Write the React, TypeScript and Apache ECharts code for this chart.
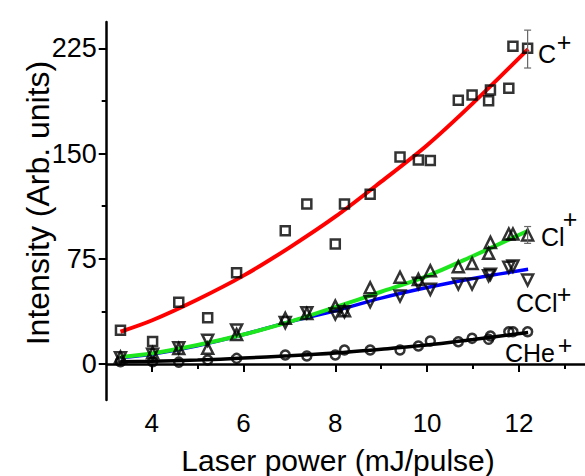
import React, { useEffect, useRef } from "react";
import * as echarts from "echarts";

// Laser power values (mJ/pulse) shared by all species
const power = [3.32, 4.02, 4.59, 5.22, 5.85, 6.91, 7.38, 8.0, 8.2, 8.76, 9.41, 9.81, 10.07, 10.68, 10.98, 11.34, 11.38, 11.78, 11.87, 12.19];
const cPlus = [24, 16, 44, 33, 65, 95, 114, 85.5, 114, 121, 147.5, 145.5, 145, 188, 191.7, 187.7, 195.3, 196.5, 226.5, 225];
const clPlus = [5, 8, 11, 11.2, 21, 32.6, 36, 41.3, 38, 54.4, 61.8, 60.3, 66.5, 69.4, 71.7, 78.9, 86.7, 92.7, 92.7, 92];
const cclPlus = [4.5, 7, 11.5, 17, 24.2, 29.5, 36.6, 35.6, 37.3, 44.4, 48.5, 57.5, 53.2, 57, 57, 63, 64, 68.9, 69.8, 59.9];
const chePlus = [1.6, 1.6, 1.3, 2.9, 4, 6.4, 5.7, 6.4, 10, 10, 10, 12.8, 16.4, 15.9, 18.3, 17.6, 20, 23, 23, 23];

// Fitted curves
const fitX = [3.32, 4, 5, 6, 7, 8, 9, 10, 11, 12.2];
const fitC = [23, 31, 46, 63, 83, 105, 130, 156, 186, 224.5];
const fitCl = [5, 7.5, 13.5, 21, 30, 40.5, 51.5, 62.7, 77, 95];
const fitCCl = [4.5, 7, 13, 21, 30, 38, 47, 54.5, 61, 67.5];
const fitCHe = [1.6, 2, 2.8, 4.2, 5.8, 7.8, 10.5, 13.5, 17.5, 22.5];

// Error bars
const errX = [12.19, 12.19];
const errLow = [211, 86];
const errHigh = [238, 98];

// Ticks
const xMajor = [4, 6, 8, 10, 12];
const xMinor = [5, 7, 9, 11, 13];
const yMajor = [0, 75, 150, 225];
const yMinor = [37.5, 112.5, 187.5];

const FONT = "Arial, 'Liberation Sans', sans-serif";

const zip = (xs: number[], ys: number[]) => xs.map((x, i) => [x, ys[i]]);

export default function App() {
  const ref = useRef<HTMLDivElement>(null);
  useEffect(() => {
    if (!ref.current) return;
    const chart = echarts.init(ref.current, null, { renderer: "svg" });
    const xMin = 3.02, xMax = 13.44, yMin = -25.66, yMax = 243.8;
    const axisCommon = {
      type: "value",
      splitLine: { show: false },
    };
    const markerStyle = { color: "rgba(0,0,0,0)", borderColor: "#000", borderWidth: 2.5 };
    const lineSeries = (name: string, ys: number[], color: string, width: number) => ({
      name,
      type: "line",
      data: zip(fitX, ys),
      smooth: 0.3,
      showSymbol: false,
      symbol: "none",
      lineStyle: { color, width },
      z: 2,
    });
    const scatter = (name: string, ys: number[], symbol: string, size: number, rotate = 0) => ({
      name,
      type: "scatter",
      data: zip(power, ys),
      symbol,
      symbolSize: size,
      symbolRotate: rotate,
      itemStyle: markerStyle,
      z: 3,
    });
    const superLabel = (base: string, bx: number, by: number, px: number, py: number) => [
      {
        type: "text",
        x: bx,
        y: by,
        style: { text: base, font: `25px ${FONT}`, fill: "#000", textAlign: "left", textVerticalAlign: "bottom" },
      },
      {
        type: "text",
        x: px,
        y: py,
        style: { text: "+", font: `25px ${FONT}`, fill: "#000", textAlign: "center", textVerticalAlign: "middle" },
      },
    ];
    chart.setOption({
      animation: false,
      backgroundColor: "#fff",
      grid: { left: 106.7, right: 0, top: 22, bottom: 76, containLabel: false, outerBoundsMode: "none" },
      xAxis: [
        {
          ...axisCommon,
          min: xMin,
          max: xMax,
          position: "bottom",
          axisLine: { show: true, lineStyle: { color: "#000", width: 2.5 } },
          axisTick: { show: true, customValues: xMajor, length: 8, lineStyle: { color: "#000", width: 2 } },
          axisLabel: { customValues: xMajor, fontSize: 26, fontFamily: FONT, color: "#000", margin: 10 },
        },
        {
          ...axisCommon,
          min: xMin,
          max: xMax,
          position: "bottom",
          axisLine: { show: false },
          axisTick: { show: true, customValues: xMinor, length: 5, lineStyle: { color: "#000", width: 2 } },
          axisLabel: { show: false },
        },
      ],
      yAxis: [
        {
          ...axisCommon,
          min: yMin,
          max: yMax,
          position: "left",
          axisLine: { show: true, lineStyle: { color: "#000", width: 2.5 } },
          axisTick: { show: true, customValues: yMajor, length: 8, lineStyle: { color: "#000", width: 2 } },
          axisLabel: { customValues: yMajor, fontSize: 27, fontFamily: FONT, color: "#000", margin: 10 },
        },
        {
          ...axisCommon,
          min: yMin,
          max: yMax,
          position: "left",
          axisLine: { show: false },
          axisTick: { show: true, customValues: yMinor, length: 5, lineStyle: { color: "#000", width: 2 } },
          axisLabel: { show: false },
        },
      ],
      series: [
        lineSeries("C+ fit", fitC, "#ff0000", 4),
        lineSeries("CCl+ fit", fitCCl, "#0000ff", 3.5),
        lineSeries("Cl+ fit", fitCl, "#1ee61e", 4),
        lineSeries("CHe+ fit", fitCHe, "#000000", 3.5),
        scatter("C+", cPlus, "rect", 9),
        scatter("Cl+", clPlus, "triangle", 11),
        scatter("CCl+", cclPlus, "triangle", 11, 180),
        scatter("CHe+", chePlus, "circle", 9),
        {
          name: "error",
          type: "custom",
          data: errX.map((x, i) => [x, errLow[i], errHigh[i]]),
          encode: { x: 0, y: [1, 2] },
          z: 4,
          renderItem: (params: any, api: any) => {
            const x = api.value(0);
            const lo = api.coord([x, api.value(1)]);
            const hi = api.coord([x, api.value(2)]);
            const style = { stroke: "#666", lineWidth: 1.2 };
            const cap = 3.5;
            return {
              type: "group",
              children: [
                { type: "line", shape: { x1: lo[0], y1: lo[1], x2: hi[0], y2: hi[1] }, style },
                { type: "line", shape: { x1: lo[0] - cap, y1: lo[1], x2: lo[0] + cap, y2: lo[1] }, style },
                { type: "line", shape: { x1: hi[0] - cap, y1: hi[1], x2: hi[0] + cap, y2: hi[1] }, style },
              ],
            };
          },
        },
      ],
      graphic: [
        ...superLabel("C", 538, 66, 564, 42),
        ...superLabel("Cl", 541, 249, 570, 219),
        ...superLabel("CCl", 516, 315, 564, 294),
        ...superLabel("CHe", 505, 365, 565, 345),
        {
          type: "text",
          x: 338,
          y: 460,
          style: { text: "Laser power (mJ/pulse)", font: `30px ${FONT}`, fill: "#000", textAlign: "center", textVerticalAlign: "middle" },
        },
        {
          type: "text",
          x: 38,
          y: 203,
          rotation: Math.PI / 2,
          style: { text: "Intensity (Arb. units)", font: `32px ${FONT}`, fill: "#000", textAlign: "center", textVerticalAlign: "middle" },
        },
      ],
    });
    return () => chart.dispose();
  }, []);
  return <div ref={ref} style={{ position: "absolute", left: 0, top: 0, width: 585, height: 476 }} />;
}
